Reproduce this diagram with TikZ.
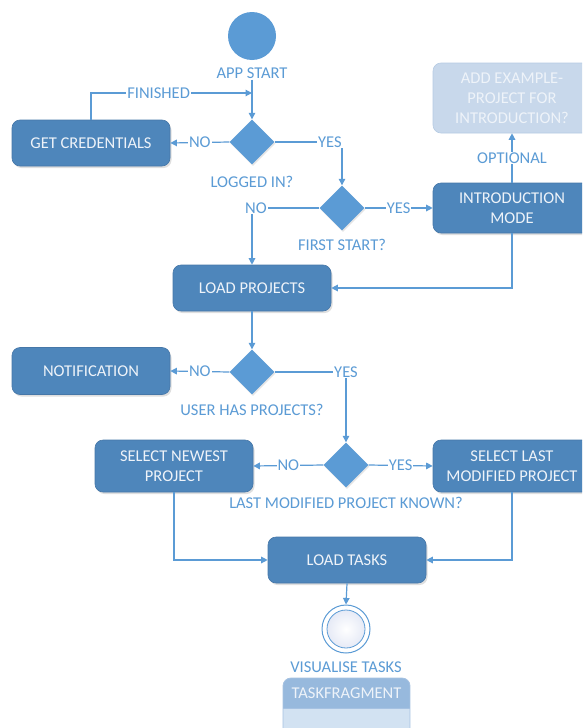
\documentclass[tikz,border=0pt]{standalone}
\usepackage{fontspec}
\setmainfont{Carlito}
\usetikzlibrary{arrows.meta,shapes.geometric,shadows,calc}

\definecolor{flowblue}{HTML}{5B9BD5}
\definecolor{boxblue}{HTML}{4E86BB}
\definecolor{boxedge}{HTML}{4677A8}
\definecolor{boxtext}{HTML}{EEF3F9}
\definecolor{paleblue}{HTML}{C8D8EB}
\definecolor{paleedge}{HTML}{B6CBE3}
\definecolor{fraghead}{HTML}{97B9DD}
\definecolor{fragbody}{HTML}{D2E2F2}
\definecolor{fragedge}{HTML}{A6C2E2}
\definecolor{endfill}{HTML}{E6EAF6}

\tikzset{
  txt/.style={font=\fontsize{16.5}{20}\selectfont},
  stepbox/.style={txt, rectangle, rounded corners=8pt, fill=boxblue, draw=boxedge,
    line width=0.6pt, text=boxtext, align=center, minimum width=158, inner sep=2pt,
    drop shadow={shadow xshift=1.5pt, shadow yshift=-2pt, opacity=0.25}},
  palebox/.style={txt, rectangle, rounded corners=8pt, fill=paleblue, draw=paleedge,
    line width=0.6pt, text=boxtext, align=center, minimum width=158, inner sep=2pt},
  decision/.style={diamond, fill=flowblue, inner sep=0pt, minimum width=45, minimum height=45,
    drop shadow={shadow xshift=1pt, shadow yshift=-1.5pt, opacity=0.2}},
  caption/.style={txt, text=flowblue, inner sep=1pt},
  lbl/.style={txt, text=flowblue, fill=white, inner sep=1pt},
  flow/.style={draw=flowblue, line width=1.2pt},
  arr/.style={flow, -{Triangle[length=6.5pt,width=6.5pt]}},
}

\begin{document}
\begin{tikzpicture}[x=1pt, y=-1pt]
\clip (0,0) rectangle (582,728);
\fill[white] (0,0) rectangle (582,728);

% start and first decision
\node[circle, fill=flowblue, minimum size=48, inner sep=0pt] (start) at (252,36) {};
\node[caption] (startlbl) at (252,73) {APP START};
\node[decision] (logged) at (252,142) {};
\node[caption] (loggedlbl) at (252,182) {LOGGED IN?};
\node[stepbox, minimum height=46] (cred) at (91,143) {GET CREDENTIALS};
\coordinate (join) at (252,93);

% first start decision and introduction branch
\node[decision] (first) at (342,208) {};
\node[caption] (firstlbl) at (342,245) {FIRST START?};
\node[stepbox, minimum height=50] (intro) at (512,208) {INTRODUCTION\\MODE};
\node[palebox, minimum height=70] (example) at (512,98) {ADD EXAMPLE-\\PROJECT FOR\\INTRODUCTION?};

% projects
\node[stepbox, minimum height=46] (load) at (252,288) {LOAD PROJECTS};
\node[decision] (has) at (252,372) {};
\node[caption] (haslbl) at (252,410) {USER HAS PROJECTS?};
\node[stepbox, minimum height=47] (notif) at (91,371) {NOTIFICATION};

\node[decision] (known) at (346,465) {};
\node[caption] (knownlbl) at (346,503) {LAST MODIFIED PROJECT KNOWN?};
\node[stepbox, minimum height=52] (newest) at (174,466) {SELECT NEWEST\\PROJECT};
\node[stepbox, minimum height=52] (lastmod) at (512,466) {SELECT LAST\\MODIFIED PROJECT};

% tasks
\node[stepbox, minimum height=46] (tasks) at (347,560) {LOAD TASKS};
\node[circle, draw=flowblue, line width=1pt, fill=white, minimum size=48, inner sep=0pt] (finish) at (346,629) {};
\node[circle, draw=flowblue, line width=0.8pt, inner color=white, outer color=endfill,
  minimum size=38, inner sep=0pt] (finishcore) at (finish.center) {};
\node[caption] (finishlbl) at (346,667) {VISUALISE TASKS};

% task fragment panel
\begin{scope}
  \clip[rounded corners=8pt] (283,678) rectangle (410,760);
  \fill[fragbody] (283,678) rectangle (410,760);
  \fill[fraghead] (283,678) rectangle (410,708);
\end{scope}
\draw[fragedge, line width=0.8pt, rounded corners=8pt] (283,678) rectangle (410,760);
\draw[fragedge, line width=0.8pt] (283,708) -- (410,708);
\node[txt, text=boxtext, inner sep=1pt] (frag) at (346.5,693) {TASKFRAGMENT};

% connectors
\draw[arr] (startlbl.south) -- (logged.north);
\draw[arr] (cred.north) |- node[lbl, pos=0.71] {FINISHED} (join);
\draw[arr] (logged.west) -- node[lbl] {NO} (cred.east);
\draw[arr] (logged.east) -| node[lbl, pos=0.41] {YES} (first.north);
\draw[arr] (first.east) -- node[lbl] {YES} (intro.west);
\draw[arr] (first.west) -| node[lbl, pos=0.5, xshift=4pt] {NO} (load.north);
\draw[arr] (intro.north) -- node[lbl] {OPTIONAL} (example.south);
\draw[arr] (intro.south) |- (load.east);
\draw[arr] (load.south) -- (has.north);
\draw[arr] (has.west) -- node[lbl] {NO} (notif.east);
\draw[arr] (has.east) -| node[lbl, pos=0.5] {YES} (known.north);
\draw[arr] (known.west) -- node[lbl] {NO} (newest.east);
\draw[arr] (known.east) -- node[lbl] {YES} (lastmod.west);
\draw[arr] (newest.south) |- (tasks.west);
\draw[arr] (lastmod.south) |- (tasks.east);
\draw[arr] (tasks.south) -- (finish.north);
\end{tikzpicture}
\end{document}
